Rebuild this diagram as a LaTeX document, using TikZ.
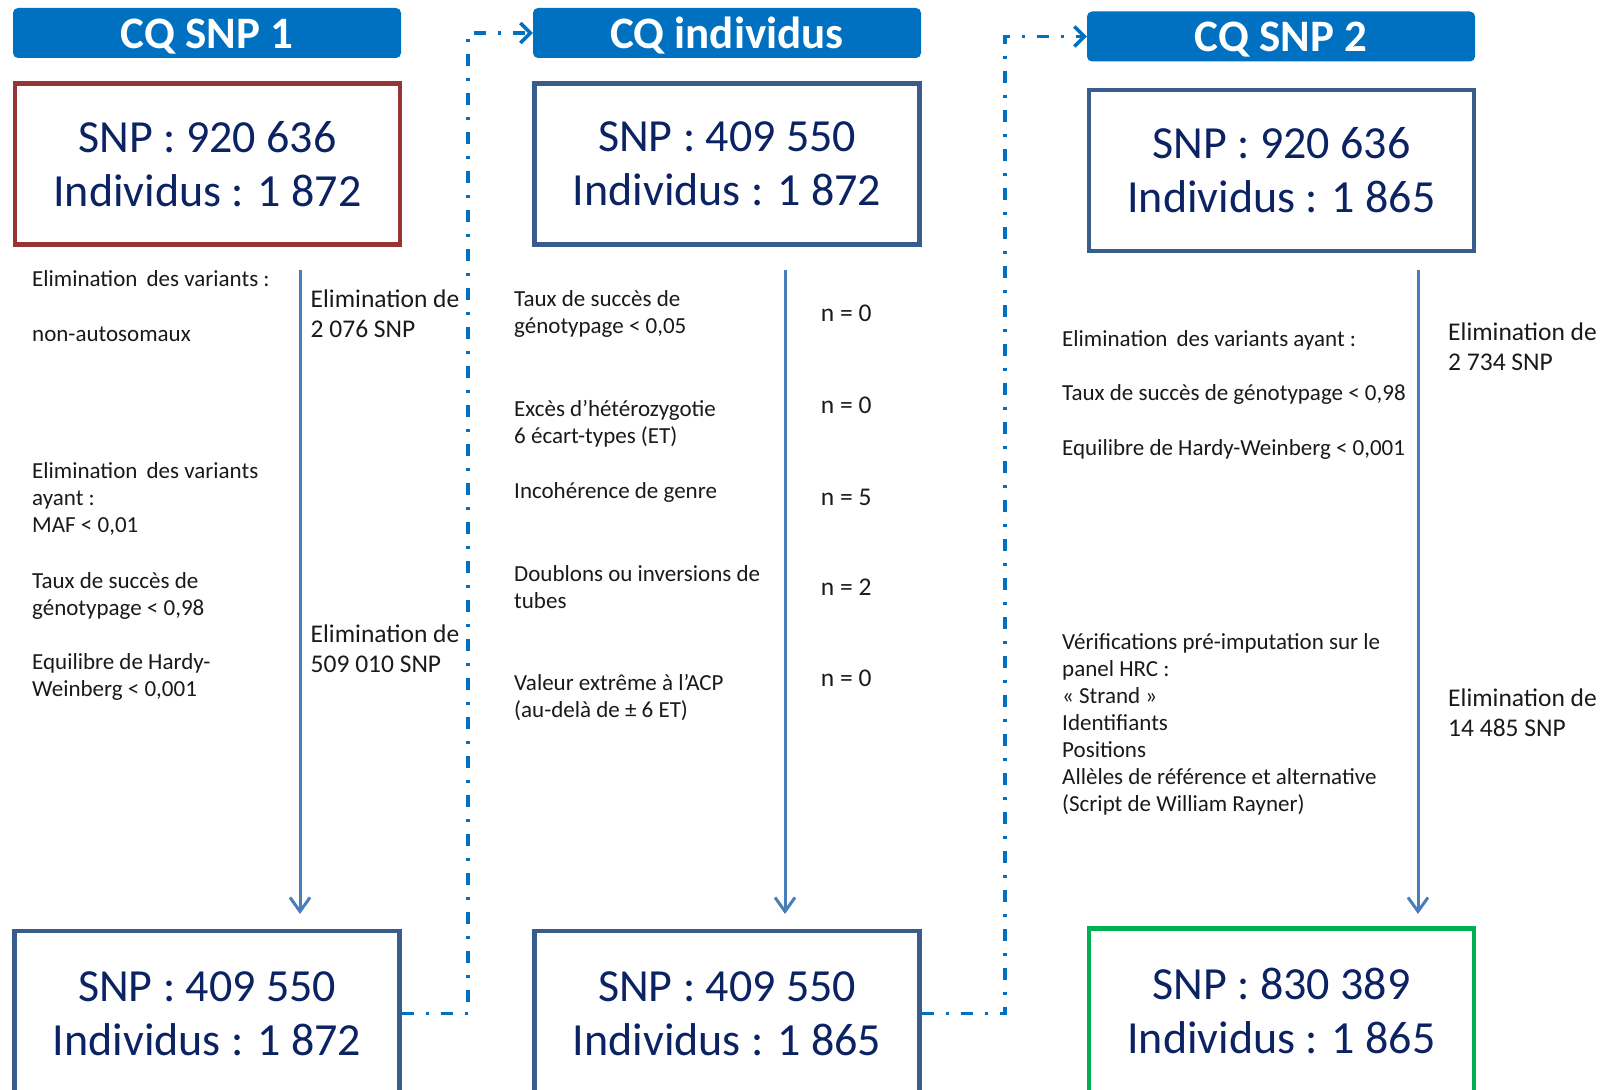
\documentclass[tikz,border=0pt]{standalone}
\usepackage{fontspec}
\setmainfont{Carlito}
\usetikzlibrary{arrows.meta}
\definecolor{hdr}{HTML}{0070C0}
\definecolor{arr}{HTML}{4A7EBB}
\definecolor{bluebd}{HTML}{385D8A}
\definecolor{redbd}{HTML}{963634}
\definecolor{greenbd}{HTML}{00B050}
\definecolor{navy}{HTML}{0B2263}
\definecolor{txt}{HTML}{1A1A1A}
\newcommand{\dsp}{\hspace{0.17em} }
\begin{document}
\begin{tikzpicture}[x=1pt,y=-1pt,
  hdrbox/.style={fill=hdr, rounded corners=5pt, minimum width=388pt, minimum height=50pt, inner sep=0pt, text height=31pt, text depth=0pt, text=white, font=\fontsize{45}{54}\selectfont\bfseries},
  countbox/.style={draw=bluebd, line width=4.5pt, fill=white, minimum width=385pt, minimum height=161pt, inner sep=0pt, align=center, text=navy, font=\fontsize{46}{54}\selectfont},
  small/.style={anchor=base west, inner sep=0pt, align=left, text=txt, font=\fontsize{23}{27}\selectfont},
  big/.style={anchor=base west, inner sep=0pt, align=left, text=txt, font=\fontsize{25.5}{30}\selectfont},
  flow/.style={draw=arr, line width=3pt, -{Straight Barb[length=14pt,width=20pt]}},
  link/.style={draw=hdr, line width=3.5pt, dash pattern=on 12pt off 12pt on 3pt off 12pt, -{Straight Barb[length=10pt,width=20pt]}}
]
\clip (0,0) rectangle (1605,1089);
\fill[white] (0,0) rectangle (1605,1089);

% headers
\node[hdrbox] (hh1) at (207,33) {CQ SNP 1};
\node[hdrbox] (hh2) at (727,33) {CQ individus};
\node[hdrbox] (hh3) at (1281,36.5) {CQ SNP 2};

% top boxes
\node[countbox, draw=redbd] (tb1) at (207.5,164) {SNP : 920 636\\Individus : 1 872};
\node[countbox] (tb2) at (727,164) {SNP : 409 550\\Individus : 1 872};
\node[countbox] (tb3) at (1281.5,170.5) {SNP : 920 636\\Individus : 1 865};

% bottom boxes
\node[countbox, minimum height=165pt] (bb1) at (207,1013.5) {SNP : 409 550\\Individus : 1 872};
\node[countbox, minimum height=165pt] (bb2) at (727,1013.5) {SNP : 409 550\\Individus : 1 865};
\node[countbox, draw=greenbd, minimum height=165pt] (bb3) at (1281.5,1011) {SNP : 830 389\\Individus : 1 865};

% vertical flow arrows
\coordinate (a1s) at (300,270);  \coordinate (a1e) at (300,914);
\coordinate (a2s) at (785,270);  \coordinate (a2e) at (785,914);
\coordinate (a3s) at (1418,270); \coordinate (a3e) at (1418,914);
\draw[flow] (a1s) -- (a1e);
\draw[flow] (a2s) -- (a2e);
\draw[flow] (a3s) -- (a3e);

% dash-dot links
\coordinate (v1) at (468,0);
\coordinate (v2) at (1005,0);
\draw[link] (bb1.east) -- (bb1.east -| v1) |- (hh2.west);
\draw[link] (bb2.east) -- (bb2.east -| v2) |- (hh3.west);

% section 1 texts (anchor = baseline of last line)
\node[small] (s1a) at (32,286.7) {Elimination\dsp des variants :};
\node[small] (s1b) at (32,341.5) {non-autosomaux};
\node[small] (s1c) at (32,532.5) {Elimination\dsp des variants\\ayant :\\MAF < 0,01};
\node[small] (s1d) at (32,615) {Taux de succès de\\génotypage < 0,98};
\node[small] (s1e) at (32,696.7) {Equilibre de Hardy-\\Weinberg < 0,001};
\node[big] (r1a) at (310.5,337.7) {Elimination de\\2 076 SNP};
\node[big] (r1b) at (310.5,672.3) {Elimination de\\509 010 SNP};

% section 2 texts
\node[small] (s2a) at (514,333.5) {Taux de succès de\\génotypage < 0,05};
\node[small] (s2b) at (514,443) {Excès d’hétérozygotie\\6 écart-types (ET)};
\node[small] (s2c) at (514,498.3) {Incohérence de genre};
\node[small] (s2d) at (514,608) {Doublons ou inversions de\\tubes};
\node[small] (s2e) at (514,717) {Valeur extrême à l’ACP\\(au-delà de ± 6 ET)};
\node[big] (n1) at (820.7,321.7) {n = 0};
\node[big] (n2) at (820.7,413.3) {n = 0};
\node[big] (n3) at (820.7,505) {n = 5};
\node[big] (n4) at (820.7,595) {n = 2};
\node[big] (n5) at (820.7,686.7) {n = 0};

% section 3 texts
\node[small] (s3a) at (1062,346) {Elimination\dsp des variants ayant :};
\node[small] (s3b) at (1062,400) {Taux de succès de génotypage < 0,98};
\node[small] (s3c) at (1062,455) {Equilibre de Hardy-Weinberg < 0,001};
\node[small] (s3d) at (1062,811) {Vérifications pré-imputation sur le\\panel HRC :\\« Strand »\\Identifiants\\Positions\\Allèles de référence et alternative\\(Script de William Rayner)};
\node[big] (r3a) at (1448,370) {Elimination de\\2 734 SNP};
\node[big] (r3b) at (1448,736) {Elimination de\\14 485 SNP};
\end{tikzpicture}
\end{document}
